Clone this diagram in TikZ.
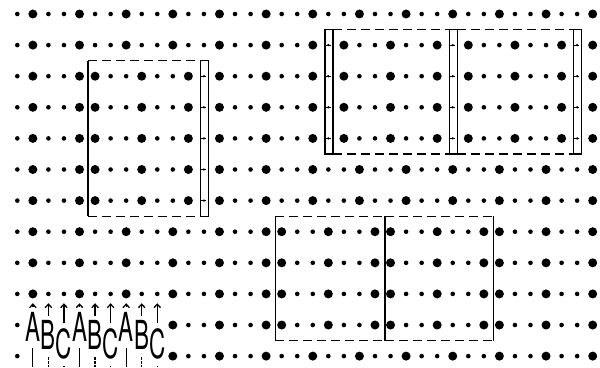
\documentclass[tikz,border=0pt]{standalone}
\usepackage{fontspec}
\usepackage{xcolor}
\usepackage{tikz}
\usetikzlibrary{arrows.meta}
\newfontfamily\letterfont{TeX Gyre Heros}
\definecolor{inkcolor}{HTML}{000000}

% one run of grid dots in row #1, columns #2..#3, big dot every third column from #4
\newcommand{\dotrun}[4]{%
  \foreach \k in {#2,...,#3}{%
    \pgfmathtruncatemacro{\m}{mod(\k-#4+30,3)}%
    \ifnum\m=0 \fill[inkcolor] (\k,-2*#1) circle (4.5pt);%
    \else \fill[inkcolor] (\k,-2*#1) circle (2.3pt);\fi}}

\begin{document}
\begin{tikzpicture}[x=15.55pt, y=15.55pt,
    boxside/.style={inkcolor, line width=1.2pt},
    boxedge/.style={inkcolor, line width=1.2pt, dash pattern=on 9pt off 5pt},
    barbox/.style={inkcolor, line width=1.2pt},
    letter/.style={anchor=base, inner sep=0pt, xscale=0.56, text=inkcolor,
                   font=\letterfont\fontsize{40}{40}\selectfont},
    shaft/.style={inkcolor, line width=1.3pt, -{Straight Barb[length=3.5pt, width=6.5pt]}, shorten <=5pt},
    foot/.style={inkcolor, line width=1.2pt, shorten <=7pt}]

    \useasboundingbox (-1.113,0.9) rectangle (37.47,-22.7);

    % Dot grid
    \dotrun{0}{0}{37}{1}
    \dotrun{1}{0}{19}{1}
    \foreach \j in {2,...,4} {\dotrun{\j}{0}{4}{1} \dotrun{\j}{13}{19}{1}}
    \foreach \j in {1,...,4} {\dotrun{\j}{21}{27}{21} \dotrun{\j}{29}{35}{29} \dotrun{\j}{37}{37}{1}}
    \foreach \j in {2,...,6} {\dotrun{\j}{5}{11}{5}}
    \foreach \j in {5,6} {\dotrun{\j}{0}{4}{1} \dotrun{\j}{13}{37}{1}}
    \foreach \j in {7,...,9} {\dotrun{\j}{0}{16}{1}}
    \foreach \j in {7,...,10} {\dotrun{\j}{17}{23}{17} \dotrun{\j}{24}{30}{24} \dotrun{\j}{31}{37}{1}}
    \dotrun{10}{0}{0}{1} \dotrun{10}{10}{16}{1}
    \dotrun{11}{0}{0}{1} \dotrun{11}{10}{37}{1}

    % Box on the left with its bar
    \draw[boxside] (4.55,-3) -- (4.55,-13);
    \draw[boxedge] (4.55,-3) -- (11.78,-3) (4.55,-13) -- (11.78,-13);
    \draw[barbox] (11.78,-3) rectangle (12.3,-13);
    \foreach \j in {2,...,6} {
        \fill[inkcolor] (12,-2*\j) circle (1.3pt);
        \draw[inkcolor, line width=0.8pt] (11.78,-2*\j) -- (12.15,-2*\j);
    }

    % Two boxes top right, bars between
    \draw[boxedge] (20.3,-1) -- (27.78,-1) (28.3,-1) -- (35.78,-1);
    \draw[boxedge] (20.3,-9) -- (27.78,-9) (28.3,-9) -- (35.78,-9);
    \foreach \b in {20,28,36} {
        \draw[barbox] (\b-0.22,-1) rectangle (\b+0.3,-9);
        \foreach \j in {1,...,4} {
            \fill[inkcolor] (\b,-2*\j) circle (1.3pt);
            \draw[inkcolor, line width=0.8pt] (\b-0.22,-2*\j) -- (\b+0.15,-2*\j);
        }
    }

    % Two boxes bottom, no bars
    \draw[boxside] (16.6,-13) -- (16.6,-21) (23.65,-13) -- (23.65,-21) (30.6,-13) -- (30.6,-21);
    \draw[boxedge] (16.6,-13) -- (23.65,-13) (23.65,-13) -- (30.6,-13);
    \draw[boxedge] (16.6,-21) -- (23.65,-21) (23.65,-21) -- (30.6,-21);

    % Letters with arrows above and feet below
    \foreach \k in {1,4,7} {
        \node[letter] (a\k) at (\k,-21.03) {A};
        \coordinate (ta\k) at (\k,-18.6);
        \coordinate (fa\k) at (\k,-22.7);
        \draw[shaft] (a\k.north) -- (ta\k);
        \draw[foot] (a\k.south) -- (fa\k);
    }
    \foreach \k in {2,5,8} {
        \node[letter] (b\k) at (\k,-21.6) {B};
        \coordinate (tb\k) at (\k,-18.6);
        \coordinate (fb\k) at (\k,-22.7);
        \draw[shaft] (b\k.north) -- (tb\k);
        \draw[foot, dash pattern=on 2.5pt off 1.5pt] (b\k.south) -- (fb\k);
    }
    \foreach \k in {3,6,9} {
        \node[letter] (c\k) at (\k,-22.15) {C};
        \coordinate (tc\k) at (\k,-18.6);
        \coordinate (fc\k) at (\k,-22.7);
        \draw[shaft] (c\k.north) -- (tc\k);
        \draw[foot] (c\k.south) -- (fc\k);
    }

\end{tikzpicture}
\end{document}
